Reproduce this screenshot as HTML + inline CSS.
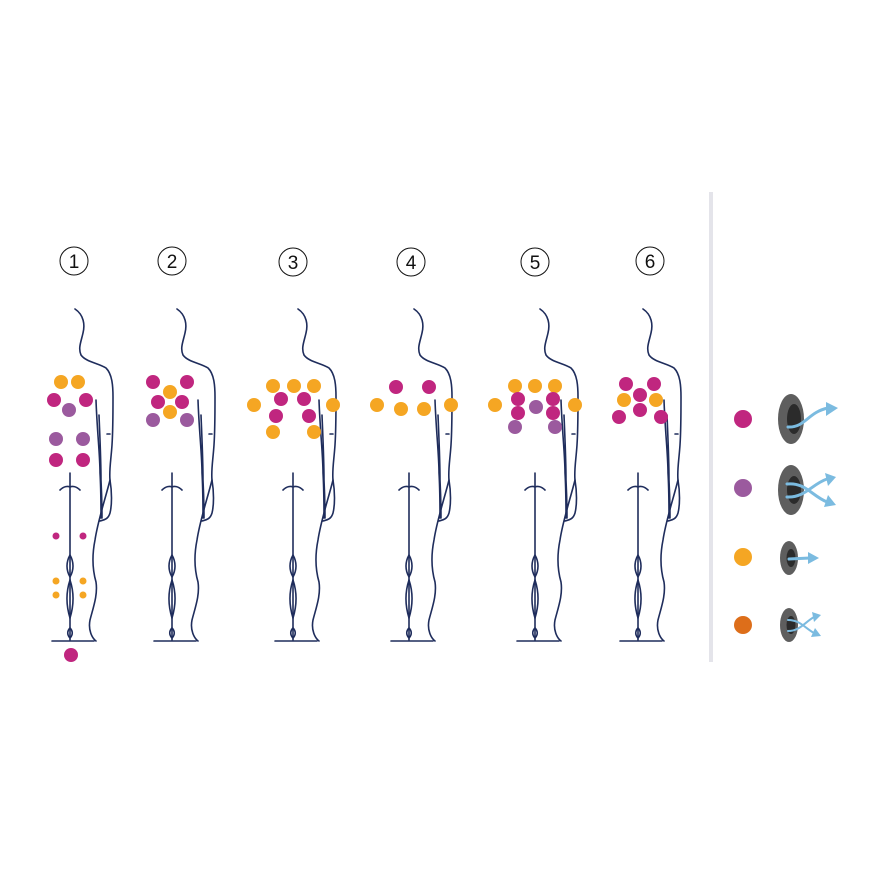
<!DOCTYPE html>
<html><head><meta charset="utf-8"><style>html,body{margin:0;padding:0;background:#fff}svg{display:block}</style></head>
<body>
<svg width="885" height="885" viewBox="0 0 885 885" xmlns="http://www.w3.org/2000/svg">
<defs>
<g id="body" fill="none" stroke="#1f2d5c" stroke-width="1.6" stroke-linecap="round">
<path d="M75,309 C84,315 85,325 83,333 C81,342 78,348 81,355 C86,362 98,363 106,368 C112,374 113,385 113,397 C113,415 113,430 112,445 C111,460 109,470 110,480 C112,492 112,505 110,513 C108,520 103,520 100,521"/>
<path d="M110,480 C105,500 98,520 95,540 C92,555 92,568 96,582 C98,595 93,608 90,620 C88,630 92,638 96,641"/>
<path d="M96,400 C97,430 100,455 100,473 C101,490 101,505 101,518"/>
<path d="M99,415 C100,440 101,460 101,480 C102,500 102,510 102,518"/>
<path d="M107,434 L110,434"/>
<path d="M70,473 L70,640"/>
<path d="M60,490 C64,486 68,486 70,487 C72,486 76,486 80,490"/>
<path d="M70,555 C66,562 66,570 70,577 C74,570 74,562 70,555 Z"/>
<path d="M70,580 C66,592 66,605 70,618 C74,605 74,592 70,580 Z"/>
<path d="M70,628 C67,631 67,635 70,638 C73,635 73,631 70,628 Z"/>
<path d="M52,641 L94,641"/>
</g>
</defs>
<g font-family="Liberation Sans, sans-serif" font-size="19" text-anchor="middle" fill="#111">
<g fill="none" stroke="#111" stroke-width="1">
<circle cx="74" cy="261" r="14"/><circle cx="172" cy="261" r="14"/><circle cx="293" cy="262" r="14"/>
<circle cx="411" cy="262" r="14"/><circle cx="535" cy="262" r="14"/><circle cx="650" cy="261" r="14"/>
</g>
<text x="74" y="268">1</text><text x="172" y="268">2</text><text x="293" y="269">3</text>
<text x="411" y="269">4</text><text x="535" y="269">5</text><text x="650" y="268">6</text>
</g>
<use href="#body"/>
<use href="#body" x="102"/>
<use href="#body" x="223"/>
<use href="#body" x="339"/>
<use href="#body" x="465"/>
<use href="#body" x="568"/>
<g>
<!-- body1 -->
<g fill="#f5a623"><circle cx="61" cy="382" r="7"/><circle cx="78" cy="382" r="7"/>
<circle cx="56" cy="581" r="3.5"/><circle cx="83" cy="581" r="3.5"/><circle cx="56" cy="595" r="3.5"/><circle cx="83" cy="595" r="3.5"/></g>
<g fill="#c0267f"><circle cx="54" cy="400" r="7"/><circle cx="86" cy="400" r="7"/><circle cx="56" cy="460" r="7"/><circle cx="83" cy="460" r="7"/>
<circle cx="56" cy="536" r="3.5"/><circle cx="83" cy="536" r="3.5"/><circle cx="71" cy="655" r="7"/></g>
<g fill="#9b5a9e"><circle cx="69" cy="410" r="7"/><circle cx="56" cy="439" r="7"/><circle cx="83" cy="439" r="7"/></g>
<!-- body2 -->
<g fill="#c0267f"><circle cx="153" cy="382" r="7"/><circle cx="187" cy="382" r="7"/><circle cx="158" cy="402" r="7"/><circle cx="182" cy="402" r="7"/></g>
<g fill="#f5a623"><circle cx="170" cy="392" r="7"/><circle cx="170" cy="412" r="7"/></g>
<g fill="#9b5a9e"><circle cx="153" cy="420" r="7"/><circle cx="187" cy="420" r="7"/></g>
<!-- body3 -->
<g fill="#f5a623"><circle cx="273" cy="386" r="7"/><circle cx="294" cy="386" r="7"/><circle cx="314" cy="386" r="7"/><circle cx="254" cy="405" r="7"/><circle cx="333" cy="405" r="7"/><circle cx="273" cy="432" r="7"/><circle cx="314" cy="432" r="7"/></g>
<g fill="#c0267f"><circle cx="281" cy="399" r="7"/><circle cx="304" cy="399" r="7"/><circle cx="276" cy="416" r="7"/><circle cx="309" cy="416" r="7"/></g>
<!-- body4 -->
<g fill="#c0267f"><circle cx="396" cy="387" r="7"/><circle cx="429" cy="387" r="7"/></g>
<g fill="#f5a623"><circle cx="377" cy="405" r="7"/><circle cx="401" cy="409" r="7"/><circle cx="424" cy="409" r="7"/><circle cx="451" cy="405" r="7"/></g>
<!-- body5 -->
<g fill="#f5a623"><circle cx="515" cy="386" r="7"/><circle cx="535" cy="386" r="7"/><circle cx="555" cy="386" r="7"/><circle cx="495" cy="405" r="7"/><circle cx="575" cy="405" r="7"/></g>
<g fill="#c0267f"><circle cx="518" cy="399" r="7"/><circle cx="553" cy="399" r="7"/><circle cx="518" cy="413" r="7"/><circle cx="553" cy="413" r="7"/></g>
<g fill="#9b5a9e"><circle cx="536" cy="407" r="7"/><circle cx="515" cy="427" r="7"/><circle cx="555" cy="427" r="7"/></g>
<!-- body6 -->
<g fill="#c0267f"><circle cx="626" cy="384" r="7"/><circle cx="654" cy="384" r="7"/><circle cx="640" cy="395" r="7"/><circle cx="640" cy="410" r="7"/><circle cx="619" cy="417" r="7"/><circle cx="661" cy="417" r="7"/></g>
<g fill="#f5a623"><circle cx="624" cy="400" r="7"/><circle cx="656" cy="400" r="7"/></g>
</g>
<rect x="709" y="192" width="4" height="470" fill="#e4e4ea"/>
<!-- legend -->
<circle cx="743" cy="419" r="9" fill="#c0267f"/>
<circle cx="743" cy="488" r="9" fill="#9b5a9e"/>
<circle cx="743" cy="557" r="9" fill="#f5a623"/>
<circle cx="743" cy="625" r="9" fill="#dd6e1a"/>
<g>
<ellipse cx="791" cy="419" rx="13" ry="25" fill="#5e5e5e"/><ellipse cx="794" cy="419" rx="7" ry="15" fill="#2b2b2b"/>
<ellipse cx="791" cy="490" rx="13" ry="25" fill="#5e5e5e"/><ellipse cx="794" cy="490" rx="7" ry="14" fill="#2b2b2b"/>
<ellipse cx="789" cy="558" rx="9" ry="17" fill="#5e5e5e"/><ellipse cx="791" cy="558" rx="4.5" ry="9" fill="#2b2b2b"/>
<ellipse cx="789" cy="625" rx="9" ry="17" fill="#5e5e5e"/><ellipse cx="791" cy="625" rx="4.5" ry="9" fill="#2b2b2b"/>
</g>
<g fill="none" stroke="#7bbbe0" stroke-width="3" stroke-linecap="round">
<path d="M788,427 C805,428 808,412 828,408"/>
<path d="M787,484 C805,482 812,496 827,502"/>
<path d="M787,497 C805,498 812,484 827,479"/>
<path d="M789,559 L810,558"/>
<path d="M788,620 C800,620 805,628 814,633" stroke-width="2"/>
<path d="M788,631 C800,631 805,622 814,617" stroke-width="2"/>
</g>
<g fill="#7bbbe0">
<polygon points="826,402 838,408 826,416"/>
<polygon points="825,473 836,477 828,486"/>
<polygon points="828,495 836,505 824,507"/>
<polygon points="808,552 819,558 808,564"/>
<polygon points="812,612 821,615 814,622"/>
<polygon points="815,628 821,636 811,637"/>
</g>
</svg>
</body></html>
